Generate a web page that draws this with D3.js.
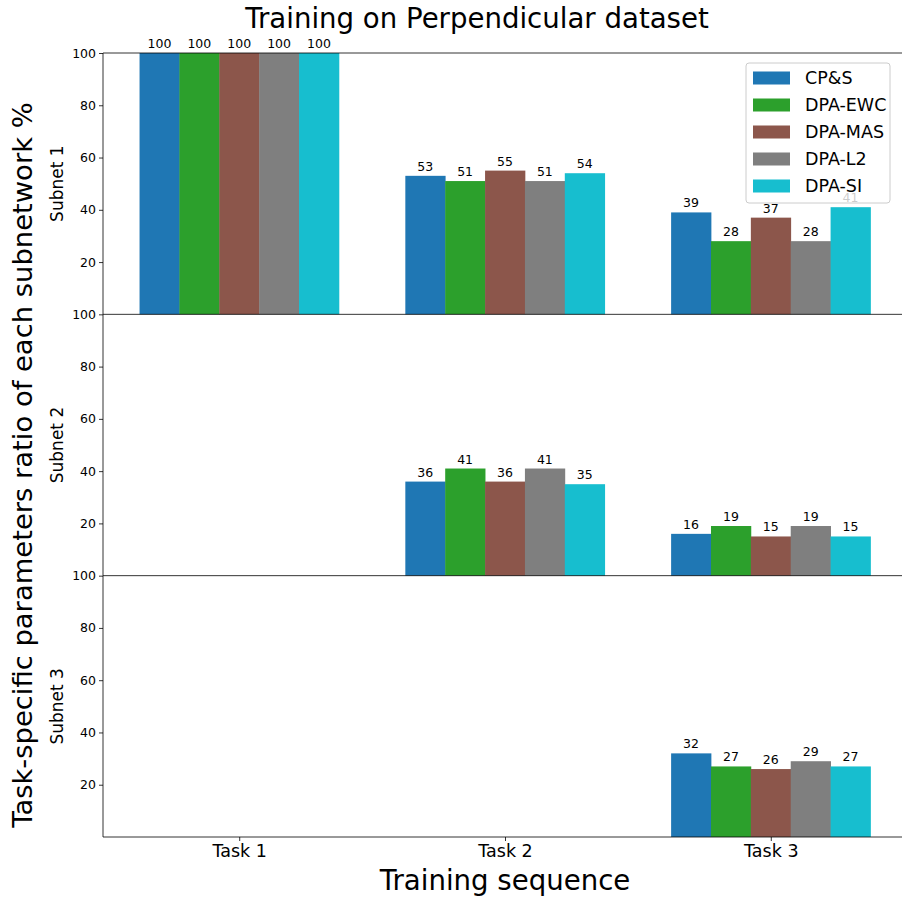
<!DOCTYPE html>
<html>
<head>
<meta charset="utf-8">
<script src="https://cdn.jsdelivr.net/npm/d3@7"></script>
<style>
  body { margin: 0; background: #fff; }
  svg { display: block; font-family: "DejaVu Sans", sans-serif; }
</style>
</head>
<body>
<svg id="chart" width="902" height="899"></svg>
<script>
// Data: share of task-specific parameters (%) per subnetwork, method and task
const tasks = ["Task 1", "Task 2", "Task 3"];
const methods = ["CP&S", "DPA-EWC", "DPA-MAS", "DPA-L2", "DPA-SI"];
const colors = ["#1f77b4", "#2ca02c", "#8c564b", "#7f7f7f", "#17becf"];
const subnets = ["Subnet 1", "Subnet 2", "Subnet 3"];
const yTicks = [20, 40, 60, 80, 100];

// values[method][task] for each subnet (0 = no bar)
const subnet1 = [
  [100, 53, 39],
  [100, 51, 28],
  [100, 55, 37],
  [100, 51, 28],
  [100, 54, 41]
];
const subnet2 = [
  [0, 36, 16],
  [0, 41, 19],
  [0, 36, 15],
  [0, 41, 19],
  [0, 35, 15]
];
const subnet3 = [
  [0, 0, 32],
  [0, 0, 27],
  [0, 0, 26],
  [0, 0, 29],
  [0, 0, 27]
];
const panels = [subnet1, subnet2, subnet3];

const svg = d3.select("#chart");
const plotL = 103, plotR = 907, plotT = 53, plotB = 837;
const panelH = (plotB - plotT) / 3;
const barW = 0.15;

const x = d3.scaleLinear().domain([-0.5125, 2.5125]).range([plotL, plotR]);

const valueLabels = [];

panels.forEach((data, p) => {
  const y0 = plotT + p * panelH;
  const y = d3.scaleLinear().domain([0, 100]).range([y0 + panelH, y0]);
  const g = svg.append("g");

  // bars
  data.forEach((row, m) => {
    row.forEach((v, t) => {
      if (v <= 0) return;
      const xc = t + (m - 2) * barW;
      g.append("rect")
        .attr("x", x(xc - barW / 2))
        .attr("y", y(v))
        .attr("width", x(xc + barW / 2) - x(xc - barW / 2) + 0.4)
        .attr("height", y(0) - y(v))
        .attr("fill", colors[m]);
      valueLabels.push({ x: x(xc), y: y(v) - 5, text: d3.format(".0f")(v) });
    });
  });

  // y axis
  const ax = g.append("g")
    .attr("transform", `translate(${plotL},0)`)
    .call(d3.axisLeft(y).tickValues(yTicks).tickSize(4).tickPadding(3));
  ax.select(".domain").remove();
  ax.selectAll("text").attr("font-size", 12.5).attr("font-family", "DejaVu Sans").attr("fill", "#000");
  ax.selectAll("line").attr("stroke", "#000").attr("stroke-width", 0.8);

  // spines
  g.append("line").attr("x1", plotL).attr("x2", plotL).attr("y1", y0).attr("y2", y0 + panelH)
    .attr("stroke", "#000").attr("stroke-width", 0.8);
  g.append("line").attr("x1", plotL).attr("x2", plotR).attr("y1", y0 + panelH).attr("y2", y0 + panelH)
    .attr("stroke", "#000").attr("stroke-width", 0.8);
  if (p === 0) {
    g.append("line").attr("x1", plotL).attr("x2", plotR).attr("y1", y0).attr("y2", y0)
      .attr("stroke", "#000").attr("stroke-width", 0.8);
  }

  // subnet label
  g.append("text")
    .attr("transform", `translate(63,${y0 + panelH / 2}) rotate(-90)`)
    .attr("text-anchor", "middle")
    .attr("font-size", 17)
    .text(subnets[p]);
});

// value labels
svg.append("g").selectAll("text").data(valueLabels).join("text")
  .attr("x", d => d.x).attr("y", d => d.y)
  .attr("text-anchor", "middle")
  .attr("font-size", 12.5)
  .text(d => d.text);

// x axis on the bottom panel
const xAx = svg.append("g")
  .attr("transform", `translate(0,${plotB})`)
  .call(d3.axisBottom(x).tickValues([0, 1, 2]).tickFormat(i => tasks[i]).tickSize(4).tickPadding(4));
xAx.select(".domain").remove();
xAx.selectAll("text").attr("font-size", 17.5).attr("font-family", "DejaVu Sans").attr("fill", "#000");
xAx.selectAll("line").attr("stroke", "#000").attr("stroke-width", 0.8);

// titles
svg.append("text").attr("x", 477).attr("y", 28).attr("text-anchor", "middle")
  .attr("font-size", 27.6).text("Training on Perpendicular dataset");
svg.append("text").attr("x", 505).attr("y", 890).attr("text-anchor", "middle")
  .attr("font-size", 27.6).text("Training sequence");
svg.append("text")
  .attr("transform", `translate(32,465) rotate(-90)`)
  .attr("text-anchor", "middle")
  .attr("font-size", 27.4)
  .text("Task-specific parameters ratio of each subnetwork %");

// legend
const lg = svg.append("g").attr("transform", "translate(746,63)");
lg.append("rect").attr("width", 144).attr("height", 140).attr("rx", 3)
  .attr("fill", "#fff").attr("fill-opacity", 0.8)
  .attr("stroke", "#ccc").attr("stroke-width", 1);
methods.forEach((name, i) => {
  const yy = 15 + i * 27;
  lg.append("rect").attr("x", 7).attr("y", yy - 6.5).attr("width", 37).attr("height", 13).attr("fill", colors[i]);
  lg.append("text").attr("x", 59).attr("y", yy + 6).attr("font-size", 17.5).text(name);
});
</script>
</body>
</html>
